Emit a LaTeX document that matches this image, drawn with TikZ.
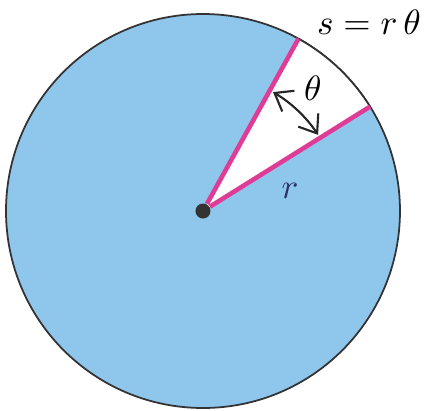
\documentclass[tikz,border=0pt]{standalone}
\usepackage{amsmath}
\usepackage{xcolor}
\usepackage{tikz}
\usetikzlibrary{arrows.meta,calc}
\definecolor{diskblue}{RGB}{142,198,236}
\definecolor{radpink}{RGB}{222,60,150}
\definecolor{labelnavy}{RGB}{40,52,105}

\begin{document}
\begin{tikzpicture}[x=0.01cm, y=0.01cm,
  disk/.style={draw=black!80, line width=0.5pt, fill=diskblue},
  rim/.style={draw=black!80, line width=0.5pt},
  wedge/.style={fill=white},
  radline/.style={radpink, line width=1.3pt},
  hub/.style={circle, fill=black!80, inner sep=0pt, minimum size=0.15cm},
  swing/.style={{Straight Barb[length=1.6mm,width=2.4mm]}-{Straight Barb[length=1.6mm,width=2.4mm]},
                line width=0.6pt, black!85},
  lbl/.style={inner sep=1pt},
]
\useasboundingbox (-203,-200) rectangle (223,211);

\coordinate (c) at (0,0);
\coordinate (A) at (61:197);
\coordinate (B) at (32:197);

% disk with the cut-out sector
\path[disk] (c) circle[radius=197];
\fill[wedge] (c) -- (B) arc[start angle=32, end angle=61, radius=197] -- cycle;
\draw[rim] (B) arc[start angle=32, end angle=61, radius=197];

\node[hub] (O) at (c) {};
\foreach \e in {A,B}{ \draw[radline] (O) -- (\e); }

% angle arrow
\coordinate (t1) at (59.5:138);
\draw[swing] (t1) arc[start angle=59.5, end angle=33.5, radius=138];

\node[lbl] (theta) at (110,123) {$\theta$};
\node[lbl, text=labelnavy] (rad) at (87,20) {$r$};
\node[lbl, anchor=east] (arclen) at (222,189) {$s = r\,\theta$};

\end{tikzpicture}
\end{document}
